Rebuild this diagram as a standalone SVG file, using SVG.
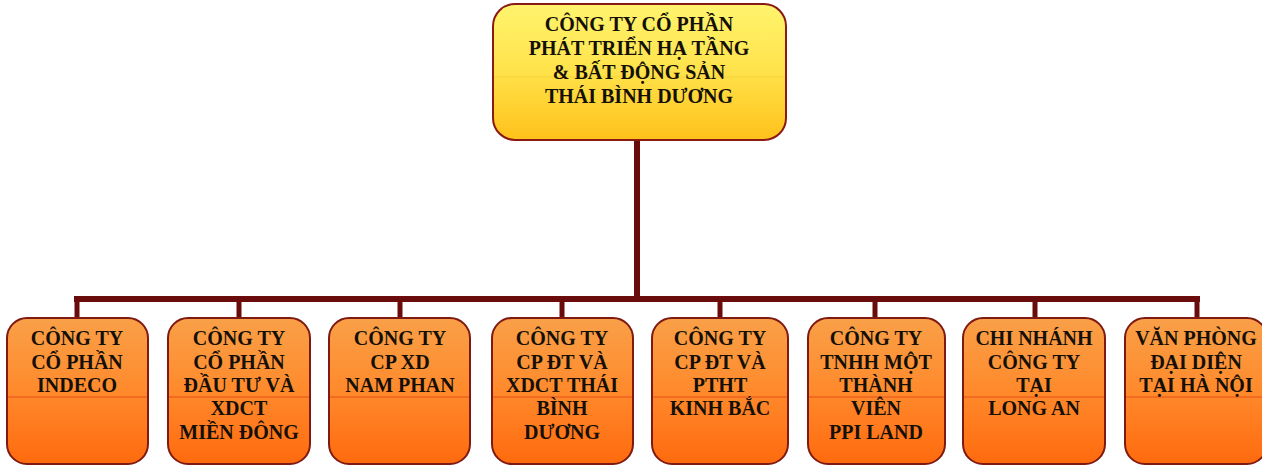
<svg xmlns="http://www.w3.org/2000/svg" width="1262" height="466" viewBox="0 0 1262 466">
  <defs>
    <linearGradient id="gTop" x1="0" y1="0" x2="0" y2="1">
      <stop offset="0" stop-color="#FFF46E"/>
      <stop offset="0.5" stop-color="#FFE24A"/>
      <stop offset="1" stop-color="#FFC11A"/>
    </linearGradient>
    <linearGradient id="gSub" x1="0" y1="0" x2="0" y2="1">
      <stop offset="0" stop-color="#F9A048"/>
      <stop offset="0.5" stop-color="#FF8A2C"/>
      <stop offset="1" stop-color="#FF6A0E"/>
    </linearGradient>
  </defs>
  <style>
    .top { fill: url(#gTop); stroke: #8A1A14; stroke-width: 2; }
    .sub { fill: url(#gSub); stroke: #7E1A12; stroke-width: 2; }
    .midTop { stroke: #F6D23A; stroke-width: 1; }
    .midSub { stroke: #E8501A; stroke-width: 1; }
    .conn { stroke: #6A0C0C; fill: none; stroke-linecap: square; }
    text { font-family: "Liberation Serif", "Times New Roman", serif; font-weight: bold; font-size: 20px; fill: #141008; text-anchor: middle; }
  </style>

  <g id="connectors">
    <line class="conn" x1="637" y1="141" x2="637" y2="299" stroke-width="6"/>
    <line class="conn" x1="77" y1="299" x2="1197" y2="299" stroke-width="6"/>
    <line class="conn" x1="77" y1="299" x2="77" y2="318" stroke-width="5"/>
    <line class="conn" x1="239" y1="299" x2="239" y2="318" stroke-width="5"/>
    <line class="conn" x1="400" y1="299" x2="400" y2="318" stroke-width="5"/>
    <line class="conn" x1="562" y1="299" x2="562" y2="318" stroke-width="5"/>
    <line class="conn" x1="720" y1="299" x2="720" y2="318" stroke-width="5"/>
    <line class="conn" x1="875" y1="299" x2="875" y2="318" stroke-width="5"/>
    <line class="conn" x1="1035" y1="299" x2="1035" y2="318" stroke-width="5"/>
    <line class="conn" x1="1197" y1="299" x2="1197" y2="318" stroke-width="5"/>
  </g>

  <g id="root">
    <rect class="top" x="493" y="4" width="293" height="136" rx="22"/>
    <line class="midTop" x1="494" y1="77" x2="785" y2="77"/>
    <text x="639" y="31">CÔNG TY CỔ PHẦN</text>
    <text x="639" y="55">PHÁT TRIỂN HẠ TẦNG</text>
    <text x="639" y="79">&amp; BẤT ĐỘNG SẢN</text>
    <text x="639" y="103">THÁI BÌNH DƯƠNG</text>
  </g>

  <g id="n1">
    <rect class="sub" x="7" y="318" width="141" height="146" rx="20"/>
    <line class="midSub" x1="8" y1="397" x2="147" y2="397"/>
    <text x="77" y="345">CÔNG TY</text>
    <text x="77" y="369">CỔ PHẦN</text>
    <text x="77" y="392">INDECO</text>
  </g>

  <g id="n2">
    <rect class="sub" x="168" y="318" width="142" height="146" rx="20"/>
    <line class="midSub" x1="169" y1="397" x2="309" y2="397"/>
    <text x="239" y="345">CÔNG TY</text>
    <text x="239" y="369">CỔ PHẦN</text>
    <text x="239" y="392">ĐẦU TƯ VÀ</text>
    <text x="239" y="415">XDCT</text>
    <text x="239" y="439">MIỀN ĐÔNG</text>
  </g>

  <g id="n3">
    <rect class="sub" x="329" y="318" width="141" height="146" rx="20"/>
    <line class="midSub" x1="330" y1="397" x2="469" y2="397"/>
    <text x="400" y="345">CÔNG TY</text>
    <text x="400" y="369">CP XD</text>
    <text x="400" y="392">NAM PHAN</text>
  </g>

  <g id="n4">
    <rect class="sub" x="492" y="318" width="141" height="146" rx="20"/>
    <line class="midSub" x1="493" y1="397" x2="632" y2="397"/>
    <text x="562" y="345">CÔNG TY</text>
    <text x="562" y="369">CP ĐT VÀ</text>
    <text x="562" y="392">XDCT THÁI</text>
    <text x="562" y="415">BÌNH</text>
    <text x="562" y="439">DƯƠNG</text>
  </g>

  <g id="n5">
    <rect class="sub" x="652" y="318" width="136" height="146" rx="20"/>
    <line class="midSub" x1="653" y1="397" x2="787" y2="397"/>
    <text x="720" y="345">CÔNG TY</text>
    <text x="720" y="369">CP ĐT VÀ</text>
    <text x="720" y="392">PTHT</text>
    <text x="720" y="415">KINH BẮC</text>
  </g>

  <g id="n6">
    <rect class="sub" x="808" y="318" width="137" height="146" rx="20"/>
    <line class="midSub" x1="809" y1="397" x2="944" y2="397"/>
    <text x="876" y="345">CÔNG TY</text>
    <text x="876" y="369">TNHH MỘT</text>
    <text x="876" y="392">THÀNH</text>
    <text x="876" y="415">VIÊN</text>
    <text x="876" y="439">PPI LAND</text>
  </g>

  <g id="n7">
    <rect class="sub" x="963" y="318" width="142" height="146" rx="20"/>
    <line class="midSub" x1="964" y1="397" x2="1104" y2="397"/>
    <text x="1034" y="345">CHI NHÁNH</text>
    <text x="1034" y="369">CÔNG TY</text>
    <text x="1034" y="392">TẠI</text>
    <text x="1034" y="415">LONG AN</text>
  </g>

  <g id="n8">
    <rect class="sub" x="1125" y="318" width="142" height="146" rx="20"/>
    <line class="midSub" x1="1126" y1="397" x2="1262" y2="397"/>
    <text x="1196" y="345">VĂN PHÒNG</text>
    <text x="1196" y="369">ĐẠI DIỆN</text>
    <text x="1196" y="392">TẠI HÀ NỘI</text>
  </g>
</svg>
